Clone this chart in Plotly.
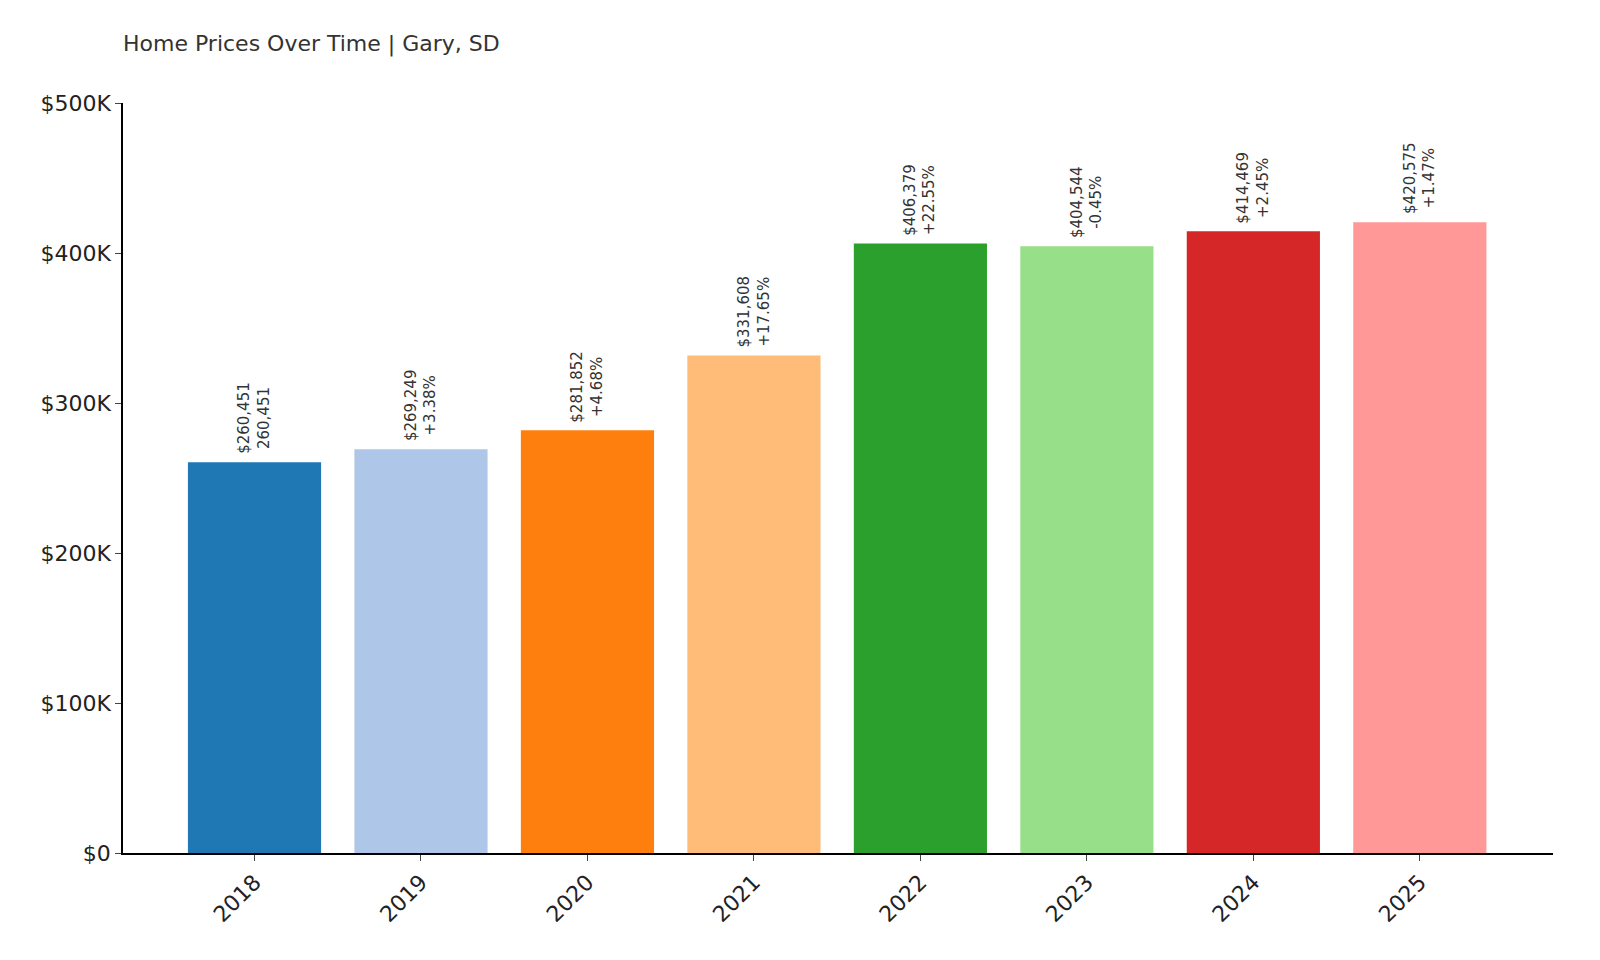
import plotly.graph_objects as go

years = ["2018", "2019", "2020", "2021", "2022", "2023", "2024", "2025"]
prices = [260451, 269249, 281852, 331608, 406379, 404544, 414469, 420575]
changes = ["260,451", "+3.38%", "+4.68%", "+17.65%", "+22.55%", "-0.45%", "+2.45%", "+1.47%"]
colors = ["#1f77b4", "#aec7e8", "#ff7f0e", "#ffbb78", "#2ca02c", "#98df8a", "#d62728", "#ff9896"]

fig = go.Figure()
fig.add_trace(go.Bar(x=list(range(len(years))), y=prices, marker_color=colors,
                     marker_line_width=0, width=0.8))

for i, (p, c) in enumerate(zip(prices, changes)):
    fig.add_annotation(x=i, y=p, text=f"${p:,}<br>{c}", textangle=-90,
                       showarrow=False, xanchor="center", yanchor="bottom", yshift=6,
                       font=dict(size=15, color="#333333"))

fig.update_layout(
    width=1600, height=960,
    paper_bgcolor="white", plot_bgcolor="white",
    font=dict(family="DejaVu Sans", color="#222222"),
    margin=dict(l=115, r=55, t=95, b=115),
    showlegend=False,
    title=dict(text="Home Prices Over Time | Gary, SD", x=115/1600, xanchor="left",
               y=1 - 35/960, yanchor="middle", font=dict(size=22, color="#333333")),
    xaxis=dict(tickmode="array", tickvals=list(range(len(years))), ticktext=years,
               range=[-0.79, 7.8], tickangle=-45, ticks="outside", ticklen=6,
               showline=True, linecolor="black", linewidth=1.5, showgrid=False,
               tickfont=dict(size=22)),
    yaxis=dict(range=[0, 500000], tickvals=[0, 100000, 200000, 300000, 400000, 500000],
               ticktext=["$0", "$100K", "$200K", "$300K", "$400K", "$500K"],
               ticks="outside", ticklen=6, showline=True, linecolor="black", linewidth=1.5,
               showgrid=False, zeroline=False, tickfont=dict(size=22)),
)

fig.write_html("out.html")
